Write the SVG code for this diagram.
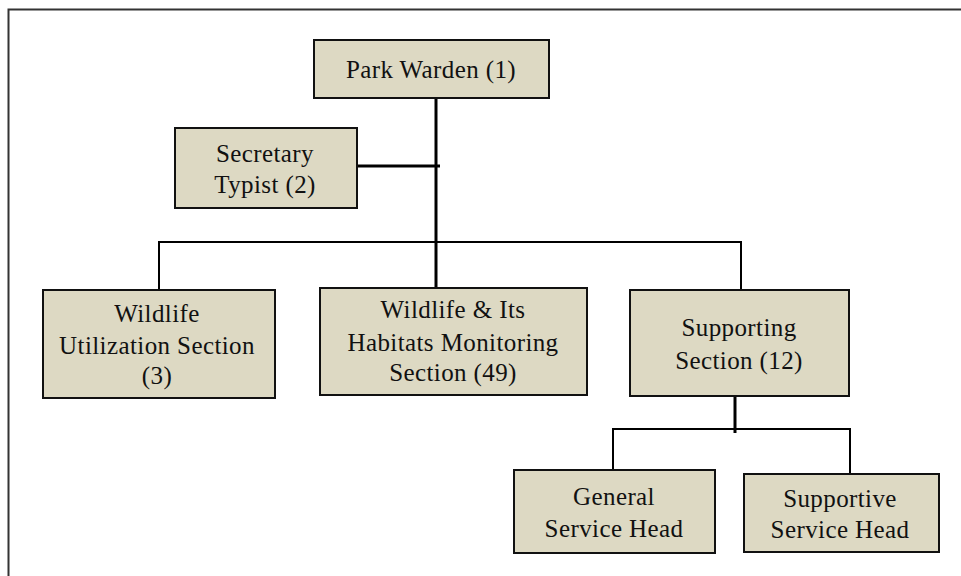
<svg xmlns="http://www.w3.org/2000/svg" width="961" height="576" viewBox="0 0 961 576">
<style>
.box{fill:#DDD9C3;stroke:#111;stroke-width:2}
.t{font-family:'Liberation Serif','Times New Roman',Times,serif;font-size:25px;fill:#111;text-anchor:middle;letter-spacing:0.4px}
.thick{stroke:#000;stroke-width:3;fill:none}
.thin{stroke:#000;stroke-width:2;fill:none}
</style>
<rect x="0" y="0" width="961" height="576" fill="#fff"/>
<path d="M8.5,980 V9.5 H980" stroke="#333" stroke-width="2" fill="none"/>
<g id="connectors">
<line class="thick" x1="436" y1="98" x2="436" y2="289"/>
<line class="thick" x1="357" y1="166" x2="440" y2="166"/>
<polyline class="thin" points="159,291 159,242 741,242 741,291"/>
<line class="thick" x1="735" y1="396" x2="735" y2="433"/>
<polyline class="thin" points="613,471 613,429 850,429 850,475"/>
</g>
<g id="park-warden">
<rect class="box" x="314" y="40" width="235" height="58"/>
<text class="t" x="431" y="78">Park Warden (1)</text>
</g>
<g id="secretary-typist">
<rect class="box" x="175" y="128" width="182" height="80"/>
<text class="t" x="265" y="162">Secretary</text>
<text class="t" x="265" y="193">Typist (2)</text>
</g>
<g id="wildlife-utilization">
<rect class="box" x="43" y="290" width="232" height="108"/>
<text class="t" x="157" y="322">Wildlife</text>
<text class="t" x="157" y="354">Utilization Section</text>
<text class="t" x="157" y="384">(3)</text>
</g>
<g id="wildlife-habitats">
<rect class="box" x="320" y="288" width="267" height="107"/>
<text class="t" x="453" y="318">Wildlife &amp; Its</text>
<text class="t" x="453" y="351">Habitats Monitoring</text>
<text class="t" x="453" y="381">Section (49)</text>
</g>
<g id="supporting-section">
<rect class="box" x="630" y="290" width="219" height="106"/>
<text class="t" x="739" y="336">Supporting</text>
<text class="t" x="739" y="369">Section (12)</text>
</g>
<g id="general-service-head">
<rect class="box" x="514" y="470" width="201" height="83"/>
<text class="t" x="614" y="505">General</text>
<text class="t" x="614" y="537">Service Head</text>
</g>
<g id="supportive-service-head">
<rect class="box" x="744" y="474" width="195" height="78"/>
<text class="t" x="840" y="507">Supportive</text>
<text class="t" x="840" y="538">Service Head</text>
</g>
</svg>
